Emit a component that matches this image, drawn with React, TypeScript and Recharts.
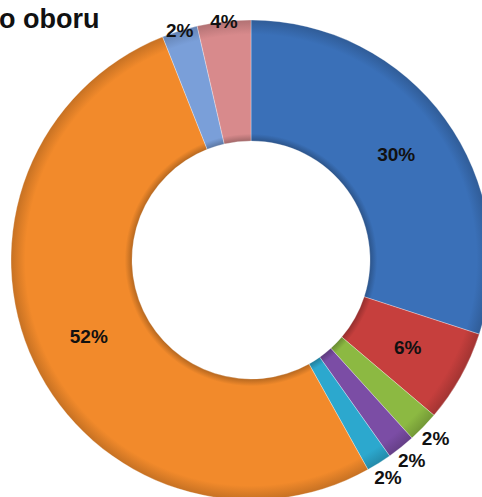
import React from 'react';
import { PieChart, Pie, Cell } from 'recharts';

// slices clockwise from 12 o'clock
const categories = ['Obor A', 'Obor B', 'Obor C', 'Obor D', 'Obor E', 'Obor F', 'Obor G', 'Obor H'];
const shares = [30, 6.2, 2.1, 1.9, 1.7, 52.1, 2.4, 3.6];
const colors = ['#3A70B8', '#C63F3D', '#8CB942', '#7B4DA5', '#2CA8CE', '#F28A2B', '#7A9FD9', '#D88A8C'];
const title = 'o oboru';

const RAD = Math.PI / 180;
const FONT = '"Liberation Sans", Arial, sans-serif';
const CX = 251;
const CY = 260;
const INNER = 119;
const OUTER = 240;

// scale a hex colour towards black (f < 1) or white (f > 1)
const shade = (hex: string, f: number) => {
  const n = parseInt(hex.slice(1), 16);
  const ch = [(n >> 16) & 255, (n >> 8) & 255, n & 255].map((c) =>
    f < 1 ? Math.round(c * f) : Math.round(c + (255 - c) * (f - 1))
  );
  return `rgb(${ch.join(',')})`;
};

const renderLabel = (props: any) => {
  const { cx, cy, midAngle, innerRadius, outerRadius, percent } = props;
  const pct = Math.round(percent * 100);
  const small = percent < 0.05;
  const dy = Math.sin(-midAngle * RAD);
  let r = (innerRadius + outerRadius) / 2;
  if (small) r = dy > 0 ? outerRadius + 17 : outerRadius;
  const x = cx + r * Math.cos(-midAngle * RAD);
  const y = cy + r * dy;
  return (
    <text
      x={x}
      y={y}
      fill="#111"
      textAnchor="middle"
      dominantBaseline="central"
      fontFamily={FONT}
      fontWeight="bold"
      fontSize={19}
    >
      {`${pct}%`}
    </text>
  );
};

const data = categories.map((name, i) => ({ name, value: shares[i] }));

export default function App() {
  const inner = INNER / OUTER;
  return (
    <div style={{ position: 'absolute', left: 0, top: 0, width: 482, height: 497, background: '#fff' }}>
      <PieChart width={482} height={497} margin={{ top: 0, right: 0, bottom: 0, left: 0 }}>
        <defs>
          {colors.map((c, i) => (
            <radialGradient
              key={c}
              id={`bevel-${i}`}
              gradientUnits="userSpaceOnUse"
              cx={CX}
              cy={CY}
              r={OUTER}
            >
              <stop offset={inner} stopColor={shade(c, 0.75)} />
              <stop offset={inner + 0.03} stopColor={c} />
              <stop offset={0.94} stopColor={c} />
              <stop offset={1} stopColor={shade(c, 0.82)} />
            </radialGradient>
          ))}
        </defs>
        <text x={-1} y={28} fontFamily={FONT} fontWeight="bold" fontSize={27} fill="#111">
          {title}
        </text>
        <Pie
          data={data}
          dataKey="value"
          nameKey="name"
          cx={CX}
          cy={CY}
          innerRadius={INNER}
          outerRadius={OUTER}
          startAngle={90}
          endAngle={-270}
          label={renderLabel}
          labelLine={false}
          stroke="rgba(255,255,255,0.3)"
          strokeWidth={1}
          isAnimationActive={false}
        >
          {data.map((d, i) => (
            <Cell key={d.name} fill={`url(#bevel-${i})`} />
          ))}
        </Pie>
      </PieChart>
    </div>
  );
}
